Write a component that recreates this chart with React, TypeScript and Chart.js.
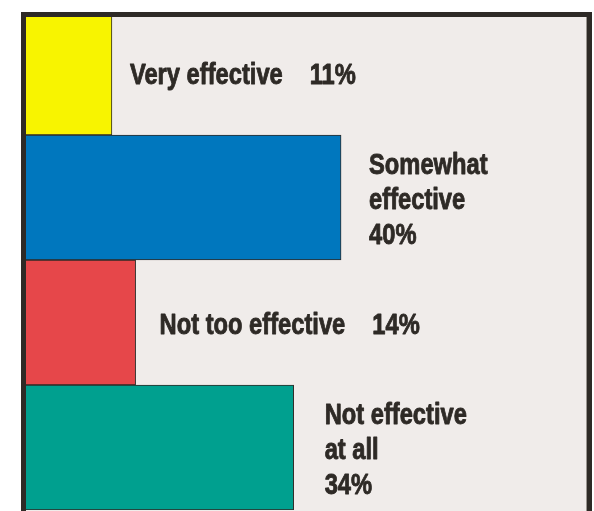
import React, { useEffect, useRef } from "react";
import { Chart, registerables } from "chart.js";

Chart.register(...registerables);

const categories = ["Very effective", "Somewhat effective", "Not too effective", "Not effective at all"];
const values = [11, 40, 14, 34];
const valueLabels = ["11%", "40%", "14%", "34%"];
// how each category label is broken into lines next to its bar
const labelLines: string[][] = [
  ["Very effective"],
  ["Somewhat", "effective"],
  ["Not too effective"],
  ["Not effective", "at all"],
];
const barColors = ["#f8f400", "#0077be", "#e6474a", "#00a08f"];

const FRAME = "#2e2a26";
const BG = "#f0ecea";
const TEXT = "#2e2a26";
const FONT = 'bold 30px "Liberation Sans", Arial, sans-serif';
const TEXT_SCALE_X = 0.79;
const labelGap = [18, 28, 24, 31];
const lineHeight = 35;
const capHalf = 11;
const inlineValueGap = 27;

const framePlugin = {
  id: "framePlugin",
  beforeDraw(chart: any) {
    const ctx = chart.ctx;
    ctx.save();
    ctx.fillStyle = BG;
    ctx.fillRect(21, 12, 571, 511 - 12);
    ctx.restore();
  },
  afterDatasetsDraw(chart: any) {
    const ctx = chart.ctx;
    const meta = chart.getDatasetMeta(0);
    const draw = (t: string, x: number, y: number) => {
      ctx.save();
      ctx.translate(x, y);
      ctx.scale(TEXT_SCALE_X, 1);
      ctx.fillText(t, 0, 0);
      ctx.lineWidth = 0.9;
      ctx.lineJoin = "round";
      ctx.strokeText(t, 0, 0);
      ctx.restore();
    };
    ctx.save();
    ctx.font = FONT;
    ctx.fillStyle = TEXT;
    ctx.strokeStyle = TEXT;
    ctx.textBaseline = "alphabetic";
    ctx.textAlign = "left";
    meta.data.forEach((bar: any, i: number) => {
      const lines = labelLines[i];
      const x = bar.x + labelGap[i];
      if (lines.length === 1) {
        const y = bar.y + capHalf;
        draw(lines[0], x, y);
        const w = ctx.measureText(lines[0]).width * TEXT_SCALE_X;
        draw(valueLabels[i], x + w + inlineValueGap, y);
      } else {
        const all = [...lines, valueLabels[i]];
        const n = all.length;
        all.forEach((t, k) => {
          const y = bar.y + capHalf + (k - (n - 1) / 2) * lineHeight;
          draw(t, x, y);
        });
      }
    });
    ctx.restore();
  },
  afterDraw(chart: any) {
    const ctx = chart.ctx;
    ctx.save();
    ctx.fillStyle = "#ffffff";
    ctx.fillRect(0, 0, 594, 12);
    ctx.fillStyle = FRAME;
    ctx.fillRect(21, 12, 571, 5);
    ctx.fillRect(21, 12, 5, 511 - 12);
    ctx.fillRect(587, 12, 5, 511 - 12);
    ctx.fillStyle = "#9a9590";
    ctx.fillRect(586, 17, 1, 511 - 17);
    ctx.restore();
  },
};

export default function App() {
  const ref = useRef<HTMLCanvasElement>(null);
  useEffect(() => {
    if (!ref.current) return;
    const chart = new Chart(ref.current, {
      type: "bar",
      data: {
        labels: categories,
        datasets: [
          {
            data: values,
            backgroundColor: barColors,
            borderColor: FRAME,
            borderWidth: 1,
            barPercentage: 1,
            categoryPercentage: 1,
          },
        ],
      },
      options: {
        indexAxis: "y",
        responsive: false,
        animation: false,
        layout: { padding: { left: 25, right: 8, top: 10, bottom: 1 } },
        plugins: { legend: { display: false }, tooltip: { enabled: false } },
        scales: {
          x: { display: false, min: 0, max: 71 },
          y: { display: false },
        },
      },
      plugins: [framePlugin],
    });
    return () => chart.destroy();
  }, []);
  return (
    <div style={{ position: "fixed", left: 0, top: 0, width: 594, height: 511, background: "#fff" }}>
      <canvas ref={ref} width={594} height={511} style={{ display: "block", width: 594, height: 511 }} />
    </div>
  );
}
